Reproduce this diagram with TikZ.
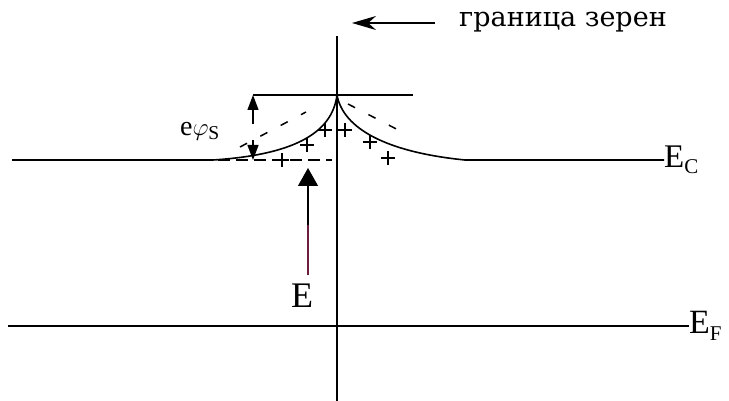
\documentclass[tikz,border=0pt]{standalone}
\usepackage{fontspec}
\setmainfont{Liberation Serif}
\newfontfamily\slabf{DejaVu Serif}
\usetikzlibrary{arrows.meta}
\definecolor{maroon}{RGB}{110,30,60}
\begin{document}
\begin{tikzpicture}[x=1pt,y=-1pt,
  band/.style={line width=1.6pt},
  thinline/.style={line width=1.2pt},
  dsh/.style={line width=1.5pt, dash pattern=on 8pt off 15pt},
  plusmark/.style={line width=1.3pt},
  bigtip/.style={-{Triangle[length=18pt,width=20pt]}, line width=1.3pt},
  smalltip/.style={-{Triangle[length=15pt,width=11pt]}, line width=1.3pt},
  lbl/.style={inner sep=0pt}]
\useasboundingbox (0,0) rectangle (729,401);
% grain boundary
\coordinate (vt) at (337,36);
\coordinate (vb) at (337,401);
\draw[thinline] (vt) -- (vb);
% top level
\coordinate (tl) at (253,95);
\coordinate (tr) at (413,95);
\draw[band] (tl) -- (tr);
% conduction band E_C
\node[lbl,anchor=west] (ec) at (664,160) {\fontsize{33}{33}\selectfont E\raisebox{-6pt}{\fontsize{21}{21}\selectfont C}};
\coordinate (ecl) at (12,160);
\coordinate (ecb) at (213,160);
\coordinate (top) at (337,95);
\coordinate (ecr) at (465,160);
\draw[band] (ecl) -- (ecb) .. controls (290,155) and (332,135) .. (top)
  .. controls (343,128) and (385,152) .. (ecr) -- (ec.west);
% dashed line under left curve
\coordinate (dl1) at (200,160);
\coordinate (dl2) at (332,160);
\draw[line width=1.5pt, dash pattern=on 12pt off 6pt] (dl1) -- (dl2);
% dashed slanted lines
\coordinate (ds1) at (240,147);
\coordinate (ds2) at (306,112);
\draw[dsh] (ds1) -- (ds2);
\coordinate (ds3) at (348,104);
\coordinate (ds4) at (406,134);
\draw[dsh] (ds3) -- (ds4);
% plus signs
\foreach \px/\py in {282/160, 307/145, 325/130, 345/130, 370/142, 388/158}
  \draw[plusmark] (\px-7,\py) -- (\px+7,\py) (\px,\py-7) -- (\px,\py+7);
% e phi_S arrows
\coordinate (ea1) at (253,124);
\coordinate (ea2) at (253,95);
\coordinate (ea3) at (253,140);
\coordinate (ea4) at (253,160);
\draw[smalltip] (ea1) -- (ea2);
\draw[smalltip] (ea3) -- (ea4);
\node[lbl] (phis) at (200,131) {\fontsize{28}{28}\selectfont e$\varphi_{\mathrm{S}}$};
% E arrow
\coordinate (eb) at (308,275);
\coordinate (em) at (308,225);
\coordinate (et) at (308,168);
\draw[maroon, line width=1.3pt] (eb) -- (em);
\draw[bigtip] (em) -- (et);
\node[lbl] (elab) at (302,296) {\fontsize{36}{36}\selectfont E};
% Fermi level
\node[lbl,anchor=west] (ef) at (689,326) {\fontsize{34}{34}\selectfont E\raisebox{-7pt}{\fontsize{21}{21}\selectfont F}};
\coordinate (efl) at (8,326);
\draw[band] (efl) -- (ef.west);
% grain boundary label
\node[lbl] (gb) at (563,22) {\slabf\fontsize{27}{27}\selectfont граница зерен};
\coordinate (ga) at (435,23);
\coordinate (gt) at (352,23);
\draw[-{Stealth[length=24pt,width=14pt]}, line width=1.5pt] (ga) -- (gt);
\end{tikzpicture}
\end{document}
